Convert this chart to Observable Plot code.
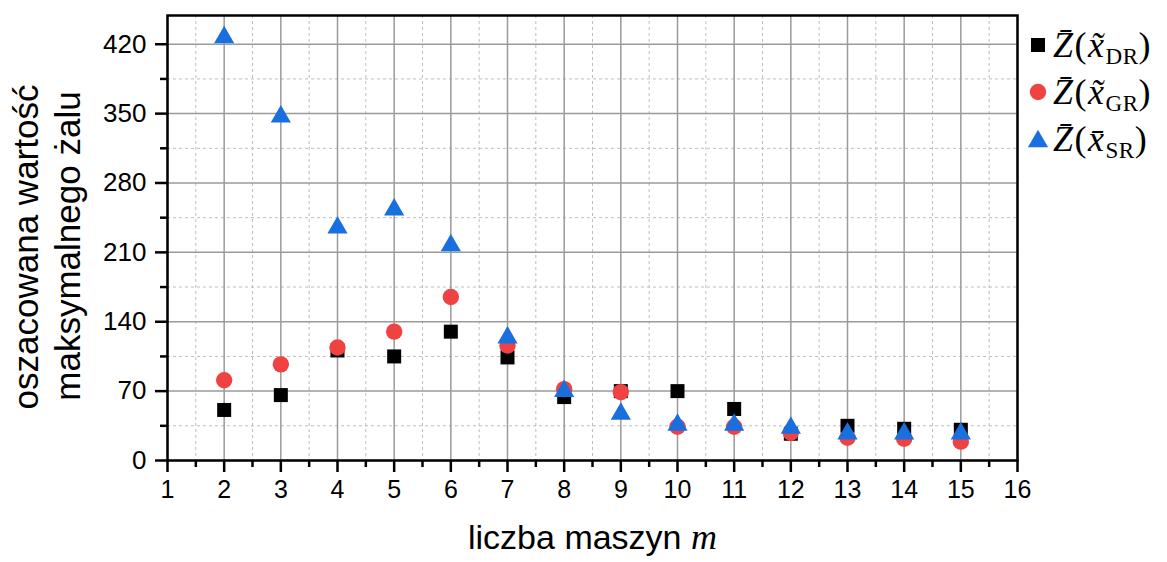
<!DOCTYPE html>
<html>
<head>
<meta charset="utf-8">
<script src="https://cdn.jsdelivr.net/npm/d3@7"></script>
<script src="https://cdn.jsdelivr.net/npm/@observablehq/plot@0.6"></script>
<style>
  html, body { margin: 0; padding: 0; background: #fff; }
  #wrap { position: relative; width: 1167px; height: 562px; }
  #legend { position: absolute; left: 1027px; top: 21px; font-family: "Liberation Serif", "DejaVu Serif", serif; font-size: 36px; color: #000; }
  #legend .row { display: flex; align-items: center; height: 47px; white-space: nowrap; }
  #legend svg { margin-right: 4px; }
  #legend span { letter-spacing: 1.5px; }
  #legend sub { font-size: 23px; font-style: normal; vertical-align: -7px; line-height: 0; letter-spacing: 0.5px; }
  #xlabel { position: absolute; left: 0; width: 1185px; top: 516px; text-align: center; font-family: "Liberation Sans", Arial, sans-serif; font-size: 34px; color: #000; }
  #xlabel i { font-family: "Liberation Serif", "DejaVu Serif", serif; font-size: 36px; }
</style>
</head>
<body>
<div id="wrap"></div>
<script>
// Data
const machines = [2, 3, 4, 5, 6, 7, 8, 9, 10, 11, 12, 13, 14, 15];
const zDR = [51, 66, 111, 105, 130, 104, 64, 70, 70, 52, 27, 35, 32, 31];
const zGR = [81, 97, 114, 130, 165, 116, 72, 69, 34, 34, 28, 23, 22, 19];
const zSR = [427, 347, 235, 253, 217, 124, 70, 47, 36, 36, 33, 27, 27, 27];
const xTicks = [1, 2, 3, 4, 5, 6, 7, 8, 9, 10, 11, 12, 13, 14, 15, 16];
const xMinor = [1.5, 2.5, 3.5, 4.5, 5.5, 6.5, 7.5, 8.5, 9.5, 10.5, 11.5, 12.5, 13.5, 14.5, 15.5];
const yTicks = [0, 70, 140, 210, 280, 350, 420];
const yMinor = [35, 105, 175, 245, 315, 385];
const seriesNames = ["DR", "GR", "SR"];
const colors = {DR: "#000000", GR: "#ef4242", SR: "#1a6fdf"};

const rows = (vals) => machines.map((m, i) => ({m, v: vals[i]}));

const font = "Liberation Sans, Arial, sans-serif";

const plot = Plot.plot({
  width: 1167,
  height: 562,
  marginLeft: 167,
  marginRight: 150,
  marginTop: 15,
  marginBottom: 102,
  style: {fontFamily: font, background: "#fff", color: "#000", overflow: "visible"},
  x: {domain: [1, 16]},
  y: {domain: [0, 449]},
  marks: [
    Plot.gridX(xMinor, {stroke: "#bdbdbd", strokeOpacity: 1, strokeWidth: 1, strokeDasharray: "3,3"}),
    Plot.gridY(yMinor, {stroke: "#bdbdbd", strokeOpacity: 1, strokeWidth: 1, strokeDasharray: "3,3"}),
    Plot.gridX(xTicks, {stroke: "#9a9a9a", strokeOpacity: 1, strokeWidth: 1.5}),
    Plot.gridY(yTicks, {stroke: "#9a9a9a", strokeOpacity: 1, strokeWidth: 1.5}),
    Plot.axisX(xTicks, {tickSize: 12, tickPadding: 8, fontSize: 25, strokeWidth: 2.5, label: null}),
    Plot.axisX(xMinor, {tickSize: 7, tickFormat: () => "", strokeWidth: 2.5, label: null}),
    Plot.axisY(yTicks, {tickSize: 12, tickPadding: 9, fontSize: 26, strokeWidth: 2.5, label: null}),
    Plot.axisY(yMinor, {tickSize: 7, tickFormat: () => "", strokeWidth: 2.5, label: null}),
    Plot.dot(rows(zDR), {x: "m", y: "v", symbol: "square", r: 7.9, fill: colors.DR}),
    Plot.dot(rows(zGR), {x: "m", y: "v", symbol: "circle", r: 8.2, fill: colors.GR}),
    Plot.dot(rows(zSR), {x: "m", y: "v", symbol: "triangle", r: 7.5, fill: colors.SR}),
    Plot.frame({stroke: "#000", strokeWidth: 2.5}),
    Plot.text([0], {frameAnchor: "left", textAnchor: "middle", text: () => "oszacowana wartość", rotate: -90, dx: -141, dy: 9, fontSize: 35, fill: "#000"}),
    Plot.text([0], {frameAnchor: "left", textAnchor: "middle", text: () => "maksymalnego żalu", rotate: -90, dx: -99, dy: 8, fontSize: 35, fill: "#000"})
  ]
});

const wrap = document.getElementById("wrap");
wrap.appendChild(plot);

// Legend
const legend = document.createElement("div");
legend.id = "legend";
const accents = {DR: "x\u0303", GR: "x\u0303", SR: "x\u0304"};
const symbols = {DR: "square", GR: "circle", SR: "triangle"};
for (const s of seriesNames) {
  const row = document.createElement("div");
  row.className = "row";
  const sv = d3.create("svg").attr("width", 22).attr("height", 22);
  const sym = {square: d3.symbolSquare, circle: d3.symbolCircle, triangle: d3.symbolTriangle}[symbols[s]];
  const rr = symbols[s] === "square" ? 7.9 : symbols[s] === "circle" ? 8.2 : 7.5;
  sv.append("path").attr("transform", `translate(11,${symbols[s] === "triangle" ? 13.5 : 11})`)
    .attr("d", d3.symbol(sym, Math.PI * rr * rr)()).attr("fill", colors[s]);
  row.appendChild(sv.node());
  const t = document.createElement("span");
  t.innerHTML = `<i>Z\u0304</i>(<i>${accents[s]}</i><sub>${s}</sub>)`;
  row.appendChild(t);
  legend.appendChild(row);
}
wrap.appendChild(legend);

// X axis label
const xl = document.createElement("div");
xl.id = "xlabel";
xl.innerHTML = "liczba maszyn <i>m</i>";
wrap.appendChild(xl);
</script>
</body>
</html>
